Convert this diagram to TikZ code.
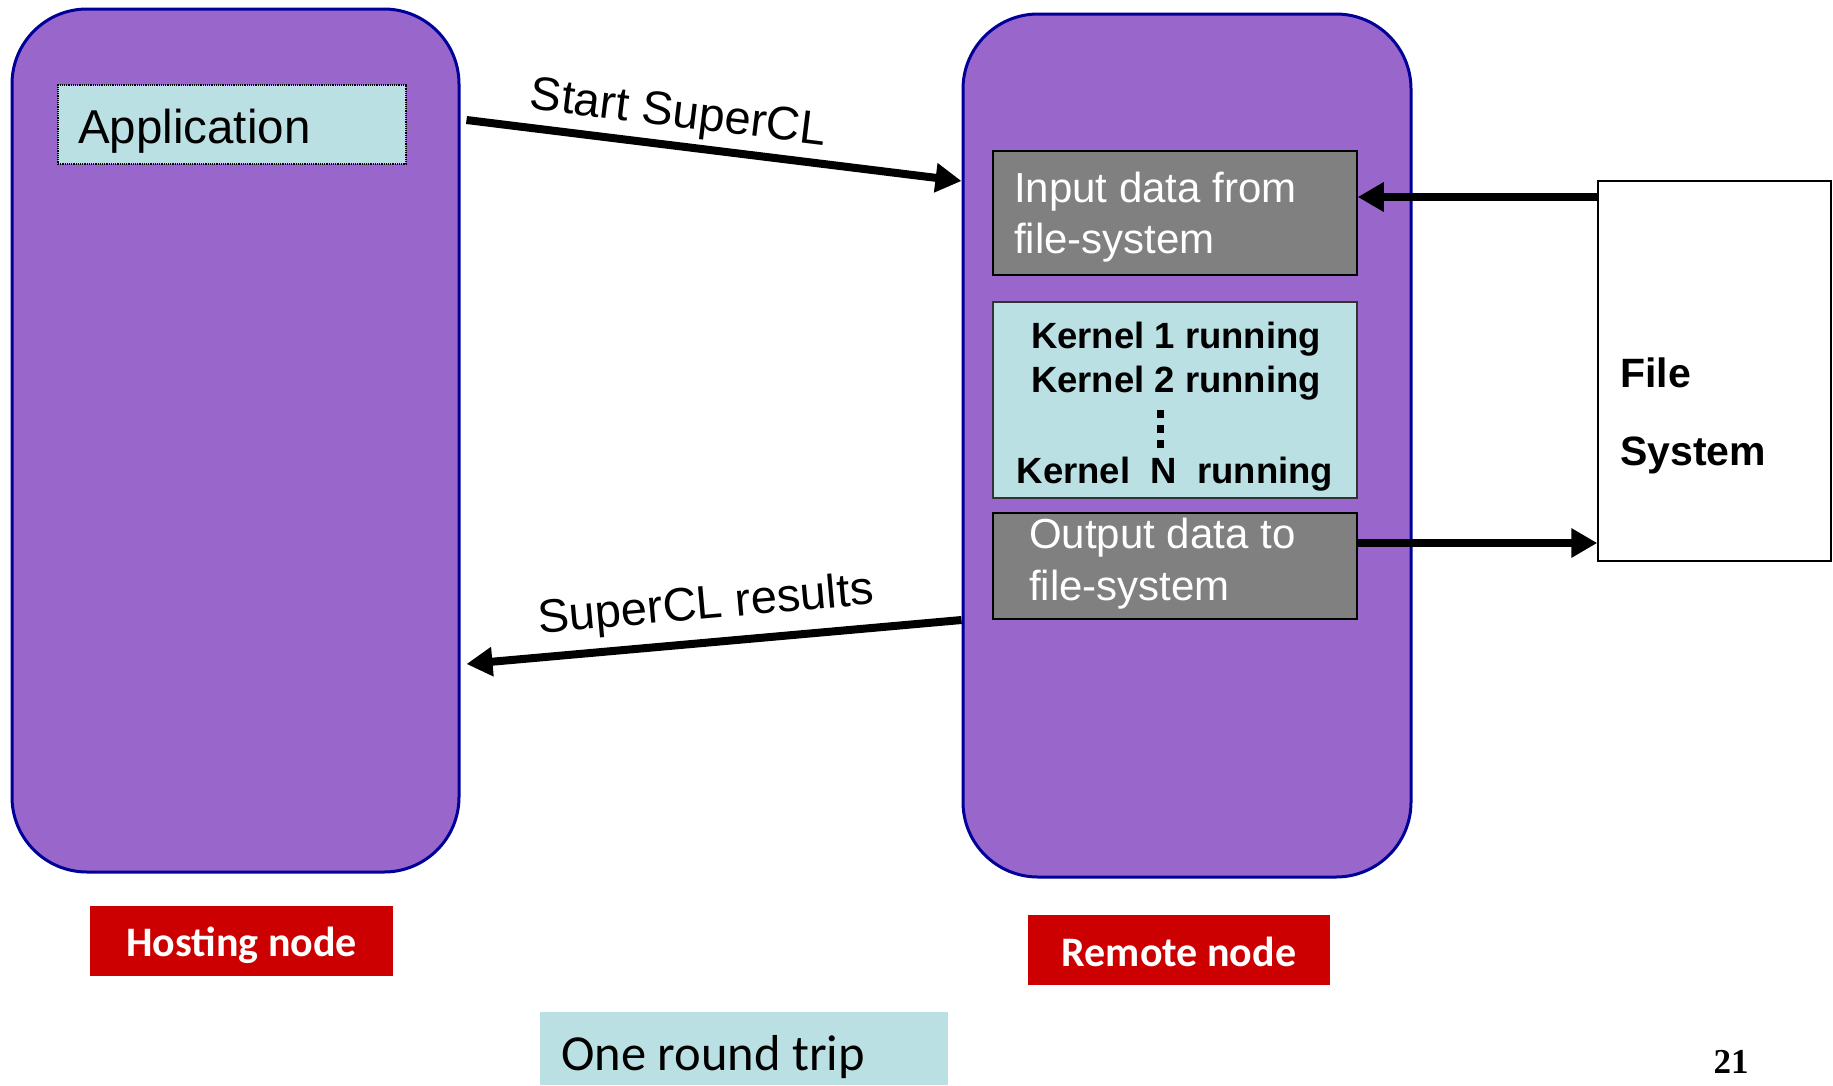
\documentclass[tikz,border=0pt]{standalone}
\usepackage{fontspec}
\setmainfont{Liberation Sans}
\newfontfamily\calfont{Carlito}
\newfontfamily\timesfont{Liberation Serif}
\usetikzlibrary{arrows.meta}
\definecolor{purp}{RGB}{153,102,204}
\definecolor{navyb}{RGB}{0,0,153}
\definecolor{lcyan}{RGB}{186,224,227}
\definecolor{gry}{RGB}{128,128,128}
\definecolor{redb}{RGB}{204,0,0}
\begin{document}
\begin{tikzpicture}[x=1pt,y=-1pt,
  machine/.style={draw=navyb, fill=purp, line width=3pt, rounded corners=75pt, inner sep=0pt},
  graybox/.style={draw=black, fill=gry, line width=1.5pt, inner sep=0pt},
  cyanbox/.style={draw=black!80, fill=lcyan, line width=1.5pt, inner sep=0pt},
  redbox/.style={fill=redb, inner sep=0pt},
  txt/.style={inner sep=0pt, anchor=base west},
  wtxt/.style={txt, text=white, font=\fontsize{42}{50}\selectfont},
  ktxt/.style={inner sep=0pt, anchor=base, font=\bfseries\fontsize{36.5}{44}\selectfont},
  lbl/.style={text=white, font=\calfont\bfseries\fontsize{42}{50}\selectfont, inner sep=0pt, anchor=base},
  arr/.style={line width=8pt, -{Triangle[length=26pt,width=28pt]}},
  arrtxt/.style={font=\fontsize{47}{56}\selectfont, inner sep=2pt, sloped}
]
\useasboundingbox (0,0) rectangle (1833,1085);

% machines
\node[machine, minimum width=447pt, minimum height=863pt] (host) at (235.5,440.5) {};
\node[machine, minimum width=448pt, minimum height=863pt] (remote) at (1187,445.5) {};

% application
\node[fill=lcyan, draw=black, densely dotted, line width=1.2pt, minimum width=348pt, minimum height=79pt, inner sep=0pt] (app) at (232,124.5) {};
\node[txt, font=\fontsize{47.5}{56}\selectfont] (apptxt) at (78,143) {Application};

% input box
\node[graybox, minimum width=364pt, minimum height=124pt] (input) at (1175,213) {};
\node[wtxt] (in1) at (1014,202) {Input data from};
\node[wtxt] (in2) at (1014,253) {file-system};

% kernel box
\node[cyanbox, minimum width=364pt, minimum height=196pt] (kern) at (1175,400) {};
\node[ktxt] (k1) at (1176,348) {Kernel 1 running};
\node[ktxt] (k2) at (1176,392) {Kernel 2 running};
\node[ktxt] (kn) at (1175,483) {Kernel\ \ N\ \ running};
\foreach \yy [count=\i] in {414,429,444}
  \node[fill=black, minimum width=7pt, minimum height=8pt, inner sep=0pt] (dot\i) at (1160,\yy) {};

% output box
\node[graybox, minimum width=364pt, minimum height=106pt] (output) at (1175,566) {};
\node[wtxt] (out1) at (1029,548) {Output data to};
\node[wtxt] (out2) at (1029,600) {file-system};

% file system
\node[draw=black, fill=white, line width=1.5pt, minimum width=233pt, minimum height=380pt, inner sep=0pt] (fs) at (1714.5,371) {};
\node[txt, font=\bfseries\fontsize{41}{49}\selectfont] (fs1) at (1620,387) {File};
\node[txt, font=\bfseries\fontsize{41}{49}\selectfont] (fs2) at (1620,465) {System};

% arrows
\draw[arr] ([xshift=6pt]host.east |- 0,120) -- node[arrtxt, pos=0.42, above=3pt] (lstart) {Start SuperCL} (remote.west |- 0,181);
\draw[arr] (remote.west |- 0,620) -- node[arrtxt, pos=0.51, above=8pt] (lres) {SuperCL results} ([xshift=6pt]host.east |- 0,664);
\draw[arr] (fs.west |- 0,197) -- (input.east |- 0,197);
\draw[arr] (output.east |- 0,543) -- (fs.west |- 0,543);

% labels
\node[redbox, minimum width=303pt, minimum height=70pt] (hostlbl) at (241.5,941) {};
\node[lbl] (hosttxt) at (241.5,956) {Hosting node};
\node[redbox, minimum width=302pt, minimum height=70pt] (remlbl) at (1179,950) {};
\node[lbl] (remtxt) at (1179,966) {Remote node};

\node[fill=lcyan, minimum width=408pt, minimum height=73pt, inner sep=0pt] (trip) at (744,1048.5) {};
\node[txt, font=\calfont\fontsize{50.5}{60}\selectfont] (triptxt) at (561,1070) {One round trip};

\node[inner sep=0pt, anchor=base, font=\timesfont\bfseries\fontsize{35}{40}\selectfont] (pg) at (1731,1073) {21};
\end{tikzpicture}
\end{document}
